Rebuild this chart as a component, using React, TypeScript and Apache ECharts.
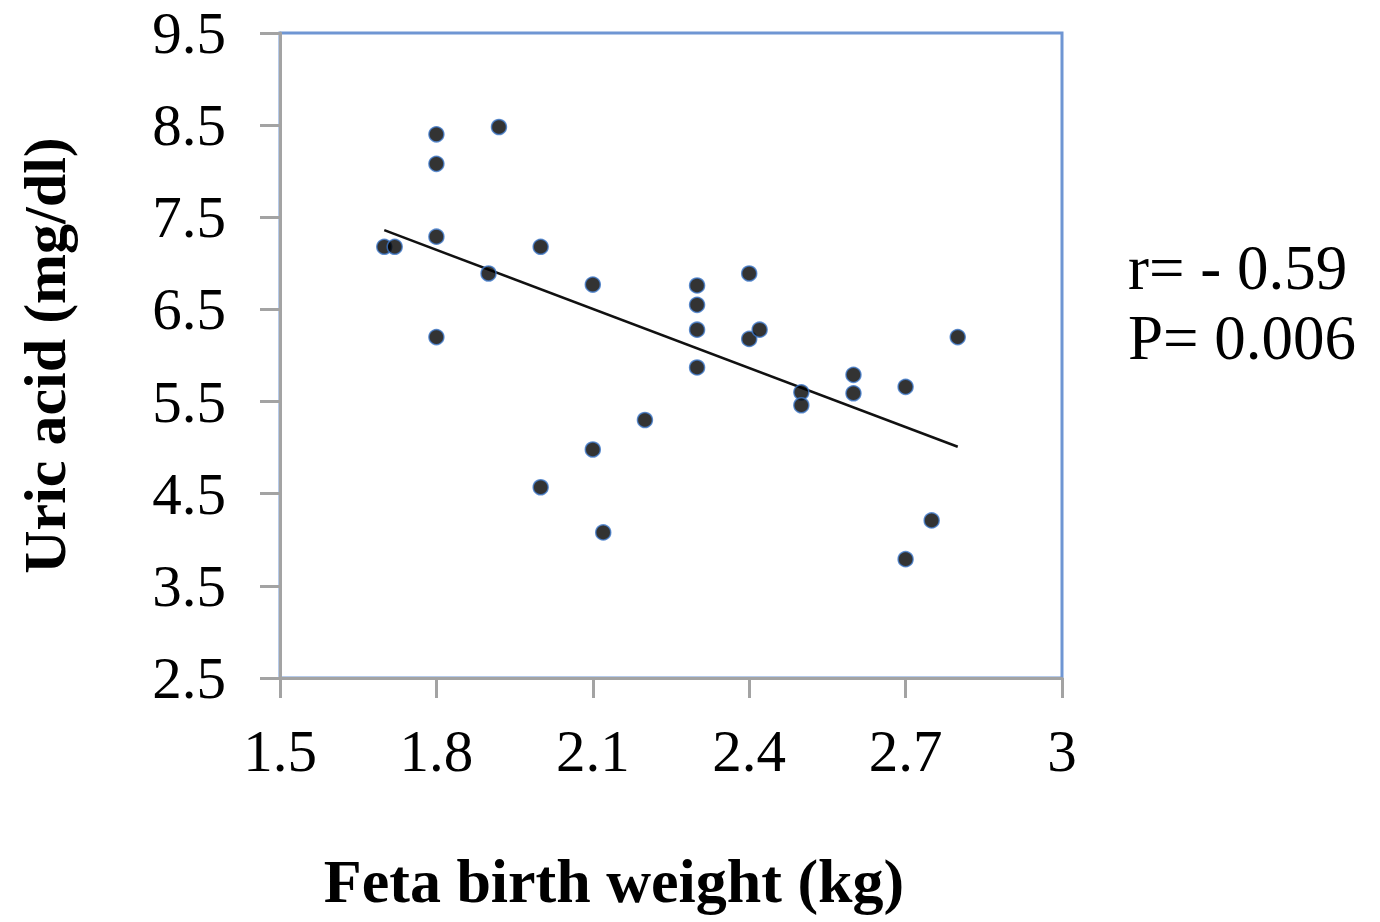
import React, { useEffect, useRef } from "react";
import * as echarts from "echarts";

const xTicks = [1.5, 1.8, 2.1, 2.4, 2.7, 3];
const yTicks = [2.5, 3.5, 4.5, 5.5, 6.5, 7.5, 8.5, 9.5];

const birthWeight = [
  1.7, 1.72, 1.8, 1.8, 1.8, 1.8, 1.92, 1.9, 2.0, 2.0, 2.1, 2.1, 2.12, 2.2, 2.3,
  2.3, 2.3, 2.3, 2.4, 2.4, 2.42, 2.5, 2.5, 2.6, 2.6, 2.7, 2.75, 2.7, 2.8,
];
const uricAcid = [
  7.18, 7.18, 8.4, 8.08, 7.29, 6.2, 8.48, 6.89, 7.18, 4.57, 6.77, 4.98, 4.08,
  5.3, 6.76, 6.55, 6.28, 5.87, 6.89, 6.18, 6.28, 5.6, 5.46, 5.79, 5.59, 5.66,
  4.21, 3.79, 6.2,
];

const trendWeight = [1.7, 2.8];
const trendUric = [7.36, 5.01];

const statLines = ["r= - 0.59", "P= 0.006"];

const FONT = "'Liberation Serif', 'Times New Roman', serif";

export default function App() {
  const ref = useRef<HTMLDivElement>(null);

  useEffect(() => {
    if (!ref.current) return;
    const chart = echarts.init(ref.current, null, { renderer: "svg" });
    const fmt = (v: number) => String(+Number(v).toFixed(1));
    chart.setOption({
      animation: false,
      backgroundColor: "#ffffff",
      grid: {
        left: 280,
        right: 318,
        top: 33,
        bottom: 244,
        show: true,
        borderColor: "#6f96d3",
        borderWidth: 3,
        outerBoundsMode: "none",
      },
      xAxis: {
        type: "value",
        min: 1.5,
        max: 3,
        name: "Feta birth weight (kg)",
        nameLocation: "middle",
        nameGap: 172,
        nameTextStyle: {
          fontFamily: FONT,
          fontWeight: "bold",
          fontSize: 62,
          color: "#000",
          padding: [0, 114, 0, 0],
        },
        splitLine: { show: false },
        axisLine: { show: true, lineStyle: { color: "#a3a3a3", width: 3 } },
        axisTick: {
          show: true,
          inside: false,
          length: 20,
          customValues: xTicks,
          lineStyle: { color: "#a3a3a3", width: 3 },
        },
        axisLabel: {
          customValues: xTicks,
          formatter: fmt,
          margin: 43,
          fontFamily: FONT,
          fontSize: 59,
          color: "#000",
        },
        z: 5,
      },
      yAxis: {
        type: "value",
        min: 2.5,
        max: 9.5,
        name: "Uric acid (mg/dl)",
        nameLocation: "middle",
        nameGap: 205,
        nameTextStyle: {
          fontFamily: FONT,
          fontWeight: "bold",
          fontSize: 60,
          color: "#000",
        },
        splitLine: { show: false },
        axisLine: { show: true, lineStyle: { color: "#a3a3a3", width: 3 } },
        axisTick: {
          show: true,
          inside: false,
          length: 20,
          customValues: yTicks,
          lineStyle: { color: "#a3a3a3", width: 3 },
        },
        axisLabel: {
          customValues: yTicks,
          formatter: fmt,
          margin: 54,
          fontFamily: FONT,
          fontSize: 59,
          color: "#000",
        },
        z: 5,
      },
      series: [
        {
          type: "line",
          data: trendWeight.map((w, i) => [w, trendUric[i]]),
          symbol: "none",
          lineStyle: { color: "#111", width: 2.5 },
          z: 3,
        },
        {
          type: "scatter",
          data: birthWeight.map((w, i) => [w, uricAcid[i]]),
          symbol: "circle",
          symbolSize: 15,
          itemStyle: { color: "#000", borderColor: "#3f78c8", borderWidth: 1.5 },
          z: 4,
        },
      ],
      graphic: statLines.map((t, i) => ({
        type: "text",
        left: 1128,
        top: 236 + i * 70,
        style: {
          text: t,
          font: `63px ${FONT}`,
          fill: "#000",
        },
      })),
    });
    return () => chart.dispose();
  }, []);

  return (
    <div
      ref={ref}
      style={{ position: "fixed", left: 0, top: 0, width: 1380, height: 922 }}
    />
  );
}
